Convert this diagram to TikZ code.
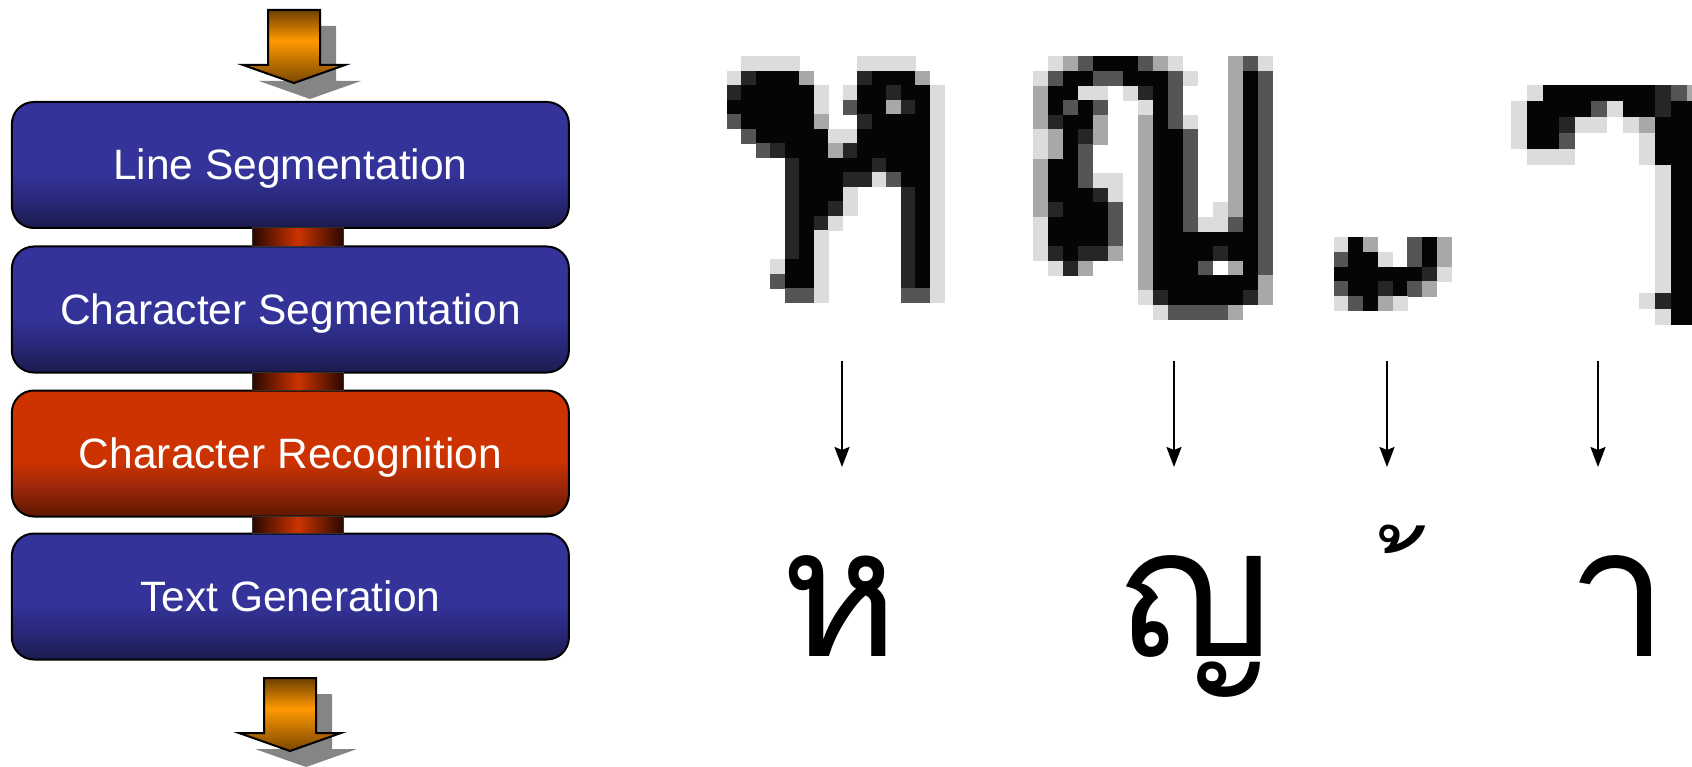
\documentclass[tikz,border=0pt]{standalone}
\usepackage{fontspec}
\newfontfamily\boxfont{Liberation Sans}
\newfontfamily\thaifont[Script=Thai]{Loma}
\usetikzlibrary{arrows.meta,calc}

\definecolor{blueT}{HTML}{333399}
\definecolor{blueM}{HTML}{28287A}
\definecolor{blueB}{HTML}{1B1B4E}
\definecolor{redT}{HTML}{CC3300}
\definecolor{redM}{HTML}{98260A}
\definecolor{redB}{HTML}{5C1800}
\definecolor{barE}{HTML}{2A0800}
\definecolor{barC}{HTML}{CC3300}
\definecolor{arrTop}{HTML}{6E3F00}
\definecolor{arrMid}{HTML}{FF9900}
\definecolor{arrBot}{HTML}{7A4600}
\definecolor{shadowgray}{HTML}{858585}
\definecolor{pxA}{HTML}{DCDCDC}
\definecolor{pxB}{HTML}{A8A8A8}
\definecolor{pxC}{HTML}{555555}
\definecolor{pxD}{HTML}{262626}
\definecolor{pxE}{HTML}{050505}

\pgfdeclareverticalshading{boxblue}{100bp}{color(0bp)=(blueB); color(25bp)=(blueB); color(36bp)=(blueM); color(47bp)=(blueT); color(100bp)=(blueT)}
\pgfdeclareverticalshading{boxred}{100bp}{color(0bp)=(redB); color(25bp)=(redB); color(36bp)=(redM); color(47bp)=(redT); color(100bp)=(redT)}
\pgfdeclarehorizontalshading{barshade}{100bp}{color(0bp)=(barE); color(25bp)=(barE); color(50bp)=(barC); color(75bp)=(barE); color(100bp)=(barE)}
\pgfdeclareverticalshading{arrshade}{100bp}{color(0bp)=(arrBot); color(25bp)=(arrBot); color(54bp)=(arrMid); color(75bp)=(arrTop); color(100bp)=(arrTop)}

\newcommand\pixglyph[5]{%
  \foreach \prow [count=\pr from 0] in {#5}{%
    \foreach \pv [count=\pc from 0] in \prow {%
      \ifnum\pv>0
        \fill[pix\pv] ({#1+\pc*#3-0.3},{#2+\pr*#4-0.3}) rectangle ++({#3+0.6},{#4+0.6});
      \fi
    }%
  }%
}

\tikzset{
  stage/.style={rounded corners=22pt, draw=black, line width=2pt,
    minimum width=557pt, minimum height=126pt, inner sep=0pt,
    text=white, text height=30pt, text depth=0pt,
    font=\boxfont\fontsize{42.5}{51}\selectfont},
  bluestage/.style={stage, shading=boxblue},
  redstage/.style={stage, shading=boxred},
  linkbar/.style={shading=barshade, draw=black!80, line width=1pt},
  thinarrow/.style={line width=2pt, -{Stealth[width=15pt,length=20pt,inset=3pt]}},
  thaichar/.style={font=\thaifont\fontsize{180}{200}\selectfont, inner sep=0pt, anchor=base},
  thaimark/.style={font=\thaifont\fontsize{126}{140}\selectfont, inner sep=0pt, anchor=base east},
  pix1/.style={fill=pxA}, pix2/.style={fill=pxB}, pix3/.style={fill=pxC},
  pix4/.style={fill=pxD}, pix5/.style={fill=pxE},
  pics/fatarrow/.style={code={
    \fill[shadowgray] (-26+16,-73+16) -- (26+16,-73+16) -- (26+16,-18+16) -- (51+16,-18+16)
      -- (16,16) -- (-51+16,-18+16) -- (-26+16,-18+16) -- cycle;
    \path[shading=arrshade, draw=black, line width=2pt, line join=miter]
      (-26,-73) -- (26,-73) -- (26,-18) -- (51,-18) -- (0,0) -- (-51,-18) -- (-26,-18) -- cycle;
  }}
}

\begin{document}
\begin{tikzpicture}[x=1pt,y=-1pt]
\useasboundingbox (0,0) rectangle (1692,767);

% process stages
\node[bluestage] (b1) at (290.4,165) {Line Segmentation};
\node[bluestage] (b2) at (290.4,309.5) {Character Segmentation};
\node[redstage]  (b3) at (290.4,453.5) {Character Recognition};
\node[bluestage] (b4) at (290.4,596.5) {Text Generation};

% links between stages
\path[linkbar] ($(b1.south)+(-38,-1)$) rectangle ($(b2.north)+(53,1)$);
\path[linkbar] ($(b2.south)+(-38,-1)$) rectangle ($(b3.north)+(53,1)$);
\path[linkbar] ($(b3.south)+(-38,-1)$) rectangle ($(b4.north)+(53,1)$);

% in / out arrows
\pic at (294,83) {fatarrow};
\pic at (290,751) {fatarrow};

% pixelated glyphs
\pixglyph{727}{56.7}{14.5}{14.5}{%
{0,1,1,1,1,0,0,0,0,1,1,1,1,0,0},
{1,4,5,5,5,2,0,0,0,4,5,5,5,2,0},
{4,5,5,5,5,5,1,0,1,5,5,4,5,5,1},
{5,5,5,5,5,5,1,0,3,5,5,2,4,5,1},
{3,5,5,5,5,5,2,0,0,4,5,5,5,5,1},
{0,3,5,5,5,5,5,1,1,5,5,5,5,5,1},
{0,0,3,4,5,5,5,2,4,5,5,5,5,5,1},
{0,0,0,0,4,5,5,5,5,5,4,5,5,5,1},
{0,0,0,0,4,5,5,5,4,4,1,3,5,5,1},
{0,0,0,0,4,5,5,5,1,0,0,0,4,5,1},
{0,0,0,0,4,5,5,4,1,0,0,0,4,5,1},
{0,0,0,0,4,5,4,1,0,0,0,0,4,5,1},
{0,0,0,0,4,5,1,0,0,0,0,0,4,5,1},
{0,0,0,0,4,5,1,0,0,0,0,0,4,5,1},
{0,0,0,1,5,5,1,0,0,0,0,0,4,5,1},
{0,0,0,3,5,5,1,0,0,0,0,0,4,5,1},
{0,0,0,0,3,3,1,0,0,0,0,0,3,3,1}}

\pixglyph{1033}{56.7}{15}{14.6}{%
{0,1,2,3,5,5,5,3,2,1,0,0,0,2,3,1},
{1,3,5,5,3,3,5,5,5,3,1,0,0,2,5,3},
{2,5,5,1,1,0,1,4,5,3,0,0,0,2,5,3},
{2,5,3,5,3,0,0,1,5,3,0,0,0,2,5,3},
{2,4,5,5,2,0,0,2,5,3,1,0,0,2,5,3},
{1,2,5,4,2,0,0,2,5,5,3,0,0,2,5,3},
{1,2,5,3,0,0,0,2,5,5,3,0,0,2,5,3},
{2,5,5,3,0,0,0,2,5,5,3,0,0,2,5,3},
{2,5,5,3,1,1,0,2,5,5,3,0,0,2,5,3},
{2,5,5,5,4,1,0,2,5,5,3,0,0,2,5,3},
{2,4,5,5,5,3,0,2,5,5,3,0,1,2,5,3},
{1,5,5,5,5,3,0,2,5,5,3,1,1,3,5,3},
{1,5,5,5,5,3,0,2,5,5,5,5,5,5,5,3},
{1,4,5,4,4,2,0,2,5,5,5,5,4,5,5,3},
{0,1,4,2,0,0,0,2,5,5,5,3,0,2,5,3},
{0,0,0,0,0,0,0,2,5,5,5,5,5,5,5,2},
{0,0,0,0,0,0,0,1,4,5,5,5,5,5,4,2},
{0,0,0,0,0,0,0,0,1,3,3,3,3,2,0,0}}

\pixglyph{1334}{223}{14.7}{14.7}{%
{0,0,0,0,0,0,0,0},
{1,5,2,0,0,3,5,2},
{3,5,5,1,0,3,5,2},
{5,5,5,5,5,5,4,1},
{3,5,5,4,5,3,2,0},
{1,3,5,2,1,0,0,0}}

\pixglyph{1511}{85}{16}{16}{%
{0,1,5,5,5,5,5,5,5,4,3,2},
{1,5,5,5,5,3,1,5,5,4,5,5},
{1,5,5,4,1,1,0,1,2,5,5,5},
{1,5,5,3,0,0,0,0,1,5,5,5},
{0,1,1,1,0,0,0,0,1,5,5,5},
{0,0,0,0,0,0,0,0,0,1,5,5},
{0,0,0,0,0,0,0,0,0,1,5,5},
{0,0,0,0,0,0,0,0,0,1,5,5},
{0,0,0,0,0,0,0,0,0,1,5,5},
{0,0,0,0,0,0,0,0,0,1,5,5},
{0,0,0,0,0,0,0,0,0,1,5,5},
{0,0,0,0,0,0,0,0,0,1,5,5},
{0,0,0,0,0,0,0,0,0,1,5,5},
{0,0,0,0,0,0,0,0,1,4,5,5},
{0,0,0,0,0,0,0,0,0,1,5,5}}

% arrows from scanned glyphs to recognised characters
\foreach \n/\ax in {1/842,2/1174,3/1387,4/1598}{
  \coordinate (s\n) at (\ax,361);
  \coordinate (e\n) at (\ax,467);
  \draw[thinarrow] (s\n) -- (e\n);
}

% recognised Thai characters
\node[thaichar] (t1) at (840,656) {ห};
\node[thaichar] (t2) at (1195,656) {ญ};
\node[thaimark] (t3) at (1422,658) {\makebox[46pt][r]{้}};
\node[thaichar] (t4) at (1618,656) {า};
\end{tikzpicture}
\end{document}
